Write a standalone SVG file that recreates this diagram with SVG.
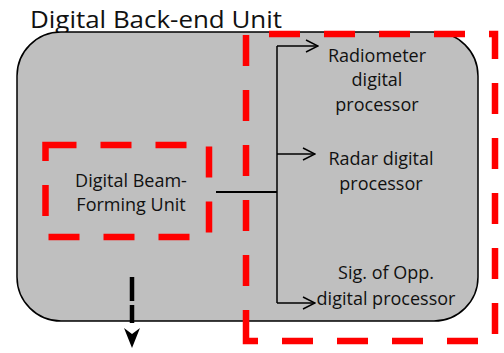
<svg xmlns="http://www.w3.org/2000/svg" width="504" height="353" viewBox="0 0 504 353">
<defs>
<style>
.t{font-family:"Open Sans","Liberation Sans",sans-serif;font-size:18px;fill:#111;text-anchor:middle}
.red{fill:none;stroke:#ff0000;stroke-width:6.5;stroke-dasharray:31 24}
.ln{fill:none;stroke:#000;stroke-width:1.5}
</style>
<marker id="open" markerWidth="14" markerHeight="14" refX="13" refY="7" orient="auto" markerUnits="userSpaceOnUse">
<path d="M1,1 L13,7 L1,13" fill="none" stroke="#000" stroke-width="1.5"/>
</marker>
</defs>
<text x="30" y="28" style="font-family:'Open Sans','Liberation Sans',sans-serif;font-size:24px;fill:#111" textLength="252" lengthAdjust="spacingAndGlyphs">Digital Back-end Unit</text>
<g id="backend">
<rect x="17" y="32" width="461" height="289" rx="44" ry="44" fill="#bfbfbf" stroke="#000" stroke-width="1.5"/>
</g>
<g id="dbf">
<rect x="45.5" y="145" width="163.5" height="92" class="red"/>
<text class="t" x="131" y="187">Digital Beam-</text>
<text class="t" x="131" y="211">Forming Unit</text>
</g>
<g id="procgroup">
<path d="M246,341 L246,34 L495,34 L495,341 Z" class="red"/>
</g>
<g id="radiometer">
<text class="t" x="377" y="62">Radiometer</text>
<text class="t" x="377" y="86">digital</text>
<text class="t" x="377" y="111">processor</text>
</g>
<g id="radar">
<text class="t" x="381" y="165">Radar digital</text>
<text class="t" x="381" y="190">processor</text>
</g>
<g id="sigopp">
<text class="t" x="386" y="279">Sig. of Opp.</text>
<text class="t" x="386" y="305">digital processor</text>
</g>
<g id="connectors">
<line x1="216" y1="192" x2="277" y2="192" stroke="#000" stroke-width="2.2"/>
<line x1="277" y1="46" x2="277" y2="303" class="ln"/>
<line x1="277" y1="46" x2="318" y2="46" class="ln" marker-end="url(#open)"/>
<line x1="277" y1="154" x2="315" y2="154" class="ln" marker-end="url(#open)"/>
<line x1="277" y1="303" x2="315" y2="303" class="ln" marker-end="url(#open)"/>
<line x1="132" y1="277" x2="132" y2="326" stroke="#000" stroke-width="4.5" stroke-dasharray="24 4 18 6"/>
<path d="M124,328 L132,334 L140,328 L132,348 Z" fill="#000"/>
</g>
</svg>
